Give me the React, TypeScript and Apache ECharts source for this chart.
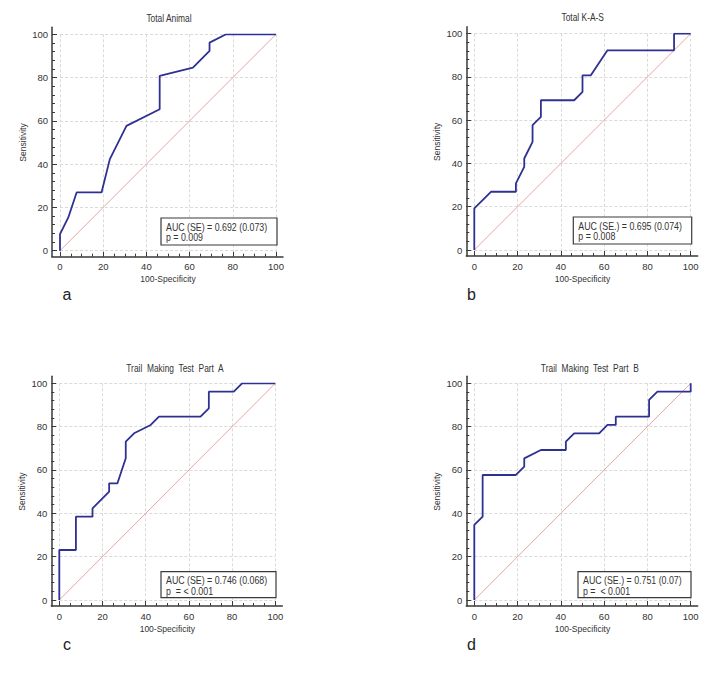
import React, { useEffect, useRef } from "react";
import * as echarts from "echarts";

// ---- Data ----
const panelTitles = ["Total Animal", "Total K-A-S", "Trail  Making  Test  Part  A", "Trail  Making  Test  Part  B"];
const panelLetters = ["a", "b", "c", "d"];
const aucLines = ["AUC (SE) = 0.692 (0.073)", "AUC (SE.) = 0.695 (0.074)", "AUC (SE) = 0.746 (0.068)", "AUC (SE.) = 0.751 (0.07)"];
const pLines = ["p = 0.009", "p = 0.008", "p  = < 0.001", "p =  < 0.001"];
const xAxisName = "100-Specificity";
const yAxisName = "Sensitivity";

const animalX = [0, 0, 3.85, 7.69, 19.23, 23.08, 30.77, 46.15, 46.15, 61.54, 69.23, 69.23, 76.92, 100];
const animalY = [0, 7.69, 15.38, 26.92, 26.92, 42.31, 57.69, 65.38, 80.77, 84.62, 92.31, 96.15, 100, 100];

const kasX = [0, 0, 7.69, 19.23, 19.23, 23.08, 23.08, 26.92, 26.92, 30.77, 30.77, 46.15, 50, 50, 53.85, 61.54, 92.31, 92.31, 100];
const kasY = [0, 19.23, 26.92, 26.92, 30.77, 38.46, 42.31, 50, 57.69, 61.54, 69.23, 69.23, 73.08, 80.77, 80.77, 92.31, 92.31, 100, 100];

const tmtaX = [0, 0, 7.69, 7.69, 15.38, 15.38, 23.08, 23.08, 26.92, 30.77, 30.77, 34.62, 42.31, 46.15, 65.38, 69.23, 69.23, 80.77, 84.62, 100];
const tmtaY = [0, 23.08, 23.08, 38.46, 38.46, 42.31, 50, 53.85, 53.85, 65.38, 73.08, 76.92, 80.77, 84.62, 84.62, 88.46, 96.15, 96.15, 100, 100];

const tmtbX = [0, 0, 3.85, 3.85, 19.23, 23.08, 23.08, 30.77, 42.31, 42.31, 46.15, 57.69, 61.54, 65.38, 65.38, 80.77, 80.77, 84.62, 100, 100];
const tmtbY = [0, 34.62, 38.46, 57.69, 57.69, 61.54, 65.38, 69.23, 69.23, 73.08, 76.92, 76.92, 80.77, 80.77, 84.62, 84.62, 92.31, 96.15, 96.15, 100];

const diagX = [0, 100];
const diagY = [0, 100];

const curvesX = [animalX, kasX, tmtaX, tmtbX];
const curvesY = [animalY, kasY, tmtaY, tmtbY];

// ---- Layout (pixels) ----
const PANELS = [
  { l: 60, t: 34.3, w: 216, h: 216.4, title: [169, 19], letter: [67, 294], box: [161, 218, 116, 27] },
  { l: 474.3, t: 33.7, w: 216.4, h: 216.3, title: [582.7, 18], letter: [471.5, 294], box: [573.3, 217, 118.4, 27] },
  { l: 59.3, t: 383.3, w: 216, h: 216.7, title: [175, 368.3], letter: [67, 644], box: [161, 571.7, 115, 26] },
  { l: 474.3, t: 383.3, w: 216.4, h: 216.7, title: [589.8, 368.3], letter: [471.5, 644], box: [578, 571.7, 113, 26] },
];

const FONT = "'Liberation Sans', Arial, sans-serif";
const NARROW = 0.84;
const TXT = "#333333";
const CURVE = "#2E3192";
const DIAG = "#E9A6A0";
const GRIDC = "#dadada";
const SPINE = "#3a3a3a";

function buildOption() {
  const grid: any[] = [];
  const xAxis: any[] = [];
  const yAxis: any[] = [];
  const series: any[] = [];
  const graphic: any[] = [];

  PANELS.forEach((p, i) => {
    grid.push({ left: p.l, top: p.t, width: p.w, height: p.h });
    grid.push({ left: p.l - 8, top: p.t - 7, width: p.w + 15, height: p.h + 13 });

    const common = {
      type: "value",
      min: 0,
      max: 100,
      interval: 20,
      nameLocation: "middle",
      nameTextStyle: { color: TXT, fontSize: 8.5, fontFamily: FONT },
      axisLine: { show: false, onZero: false },
      axisTick: { show: true, inside: true, length: 5, lineStyle: { color: SPINE, width: 1 } },
      axisLabel: { color: TXT, fontSize: 9.5, fontFamily: FONT },
      splitLine: { show: true, lineStyle: { color: GRIDC, width: 1, type: [3, 2] } },
    };

    xAxis.push({
      ...common,
      gridIndex: 2 * i,
      position: "bottom",
      offset: 6,
      name: xAxisName,
      nameGap: 18,
      minorTick: { show: true, splitNumber: 4, length: 3, lineStyle: { color: SPINE, width: 1 } },
      axisLabel: { ...common.axisLabel, margin: 5 },
    });
    xAxis.push({
      gridIndex: 2 * i + 1,
      type: "value",
      min: 0,
      max: 1,
      position: "bottom",
      axisLine: { show: true, onZero: false, lineStyle: { color: SPINE, width: 1.5 } },
      axisTick: { show: false },
      axisLabel: { show: false },
      splitLine: { show: false },
    });

    yAxis.push({
      ...common,
      gridIndex: 2 * i,
      position: "left",
      offset: 8,
      name: yAxisName,
      nameGap: 25,
      minorTick: { show: true, splitNumber: 5, length: 3, lineStyle: { color: SPINE, width: 1 } },
      axisLabel: { ...common.axisLabel, margin: 4 },
    });
    yAxis.push({
      gridIndex: 2 * i + 1,
      type: "value",
      min: 0,
      max: 1,
      position: "left",
      axisLine: { show: true, onZero: false, lineStyle: { color: SPINE, width: 1.5 } },
      axisTick: { show: false },
      axisLabel: { show: false },
      splitLine: { show: false },
    });

    series.push({
      type: "line",
      xAxisIndex: 2 * i,
      yAxisIndex: 2 * i,
      data: diagX.map((x, k) => [x, diagY[k]]),
      showSymbol: false,
      silent: true,
      lineStyle: { color: DIAG, width: 1 },
      z: 2,
    });
    series.push({
      type: "line",
      xAxisIndex: 2 * i,
      yAxisIndex: 2 * i,
      data: curvesX[i].map((x, k) => [x, curvesY[i][k]]),
      showSymbol: false,
      silent: true,
      lineStyle: { color: CURVE, width: 1.8 },
      z: 3,
    });

    graphic.push({
      type: "text",
      x: p.title[0],
      y: p.title[1],
      scaleX: NARROW,
      style: { text: panelTitles[i], fill: TXT, font: `10px ${FONT}`, textAlign: "center", textVerticalAlign: "middle" },
    });
    graphic.push({
      type: "text",
      x: p.letter[0],
      y: p.letter[1],
      style: { text: panelLetters[i], fill: "#222", font: `16px ${FONT}`, textAlign: "center", textVerticalAlign: "middle" },
    });
    const [bx, by, bw, bh] = p.box;
    graphic.push({
      type: "rect",
      shape: { x: bx, y: by, width: bw, height: bh },
      style: { fill: "#ffffff", stroke: SPINE, lineWidth: 1.2 },
      z: 10,
    });
    graphic.push({
      type: "text",
      x: bx + 5,
      y: by + 9,
      scaleX: NARROW,
      style: { text: aucLines[i], fill: TXT, font: `10.5px ${FONT}`, textAlign: "left", textVerticalAlign: "middle" },
      z: 11,
    });
    graphic.push({
      type: "text",
      x: bx + 5,
      y: by + 19.5,
      scaleX: NARROW,
      style: { text: pLines[i], fill: TXT, font: `10.5px ${FONT}`, textAlign: "left", textVerticalAlign: "middle" },
      z: 11,
    });
  });

  return {
    animation: false,
    backgroundColor: "#ffffff",
    grid,
    xAxis,
    yAxis,
    series,
    graphic,
  };
}

export default function App() {
  const ref = useRef<HTMLDivElement>(null);
  useEffect(() => {
    if (!ref.current) return;
    const chart = echarts.init(ref.current, undefined, { renderer: "svg" });
    chart.setOption(buildOption());
    return () => chart.dispose();
  }, []);
  return (
    <div
      ref={ref}
      style={{ position: "absolute", left: 0, top: 0, width: 723, height: 678, background: "#fff" }}
    />
  );
}
